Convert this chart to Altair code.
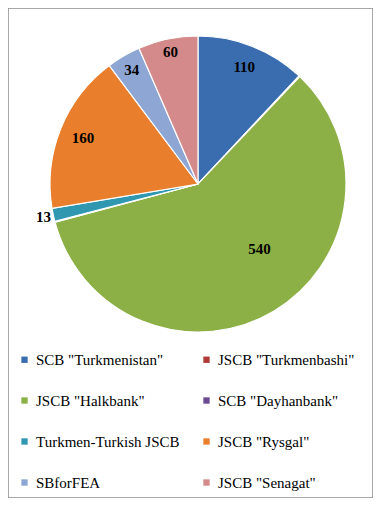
import altair as alt
import pandas as pd

banks = ['SCB "Turkmenistan"', 'JSCB "Turkmenbashi"', 'JSCB "Halkbank"', 'SCB "Dayhanbank"',
         'Turkmen-Turkish JSCB', 'JSCB "Rysgal"', 'SBforFEA', 'JSCB "Senagat"']
values = [110, 1, 540, 1, 13, 160, 34, 60]
colors = ['#3a6db0', '#b03a36', '#8cb045', '#6a4b91', '#2f97b0', '#e97e2c', '#8ea6d3', '#d48a8a']

df = pd.DataFrame({"bank": banks, "value": values, "order": list(range(len(banks)))})

cx, cy, R = 190, 176, 148
FONT = "Liberation Serif, Times New Roman, DejaVu Serif, serif"

base = alt.Chart(df).encode(
    theta=alt.Theta("value:Q", stack=True),
    order=alt.Order("order:Q"),
)

pie = base.mark_arc(outerRadius=R, stroke="white", strokeWidth=1.2).encode(
    x=alt.value(cx), y=alt.value(cy),
    color=alt.Color("bank:N", sort=banks,
                    scale=alt.Scale(domain=banks, range=colors),
                    legend=alt.Legend(title=None, orient="none", legendX=9, legendY=344,
                                      direction="horizontal",
                                      columns=2, columnPadding=19, rowPadding=25,
                                      gridAlign="all", symbolType="square", symbolSize=40,
                                      symbolStrokeWidth=0, labelFont=FONT,
                                      labelFontSize=15, labelColor="#000", labelOffset=4,
                                      labelLimit=300)),
)

def text_layer(expr, r, dx=0, dy=0):
    return base.mark_text(font=FONT, fontSize=15, fontWeight="bold",
                          color="#000", radius=r, dx=dx, dy=dy).encode(
        x=alt.value(cx), y=alt.value(cy),
        text=alt.condition(expr, alt.Text("value:Q"), alt.value("")),
    )

layers = [
    pie,
    text_layer("datum.value == 110", 126),
    text_layer("datum.value == 540", 95, 13, -17),
    text_layer("datum.value == 13", 158),
    text_layer("datum.value == 160", 124),
    text_layer("datum.value == 34", 132),
    text_layer("datum.value == 60", 135),
]

chart = alt.layer(*layers).properties(
    width=365, height=490, autosize="none", padding=0
).configure_view(stroke="#8c8c8c", strokeWidth=1.5)

chart.save("out.html", embed_options={"renderer": "svg", "actions": False})
